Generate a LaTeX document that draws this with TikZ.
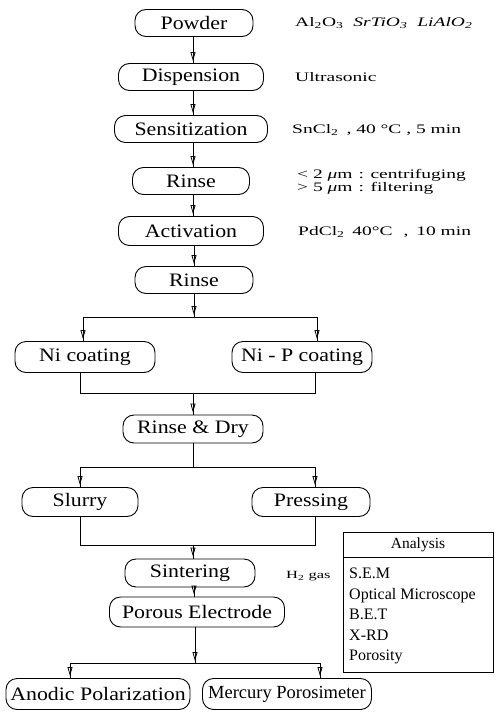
\documentclass[tikz,border=0pt]{standalone}
\usepackage{fontspec}
\setmainfont{Liberation Serif}
\newfontfamily\sidefont{Liberation Serif}[FakeStretch=1.5]
\newfontfamily\boxfont{Liberation Serif}[FakeStretch=1.15]
\usetikzlibrary{arrows.meta}
\begin{document}
\begin{tikzpicture}[x=1pt,y=-1pt,
  stepbox/.style={draw, line width=0.9pt, rounded corners=11pt, minimum height=27pt, inner sep=0pt, font=\boxfont\fontsize{19}{22}\selectfont},
  side/.style={anchor=west, inner sep=0pt, font=\sidefont\fontsize{13}{15}\selectfont},
  link/.style={line width=0.8pt},
  flow/.style={line width=0.8pt, preaction={draw,-,shorten >=0pt}, -{Triangle[open,length=9pt,width=5pt]}, shorten >=2pt},
  atext/.style={inner sep=0pt, font=\fontsize{16}{20.5}\selectfont}
]
\useasboundingbox (0,0) rectangle (498,715);

% main column
\node[stepbox, minimum width=118pt] (powder) at (194,23) {Powder};
\node[stepbox, minimum width=145pt] (disp) at (191,77) {Dispension};
\node[stepbox, minimum width=153pt] (sens) at (191,129) {Sensitization};
\node[stepbox, minimum width=117pt] (rinseA) at (191,181) {Rinse};
\node[stepbox, minimum width=145pt, minimum height=29pt] (activ) at (191,231) {Activation};
\node[stepbox, minimum width=118pt] (rinseB) at (194,280) {Rinse};
\node[stepbox, minimum width=140pt, minimum height=31pt] (nic) at (85,357) {Ni coating};
\node[stepbox, minimum width=140pt, minimum height=31pt] (nip) at (302,357) {Ni - P coating};
\node[stepbox, minimum width=140pt, minimum height=28pt] (rdry) at (193,429) {Rinse \& Dry};
\node[stepbox, minimum width=116pt, minimum height=29pt] (slurry) at (80,502) {Slurry};
\node[stepbox, minimum width=118pt, minimum height=29pt] (press) at (311,502) {Pressing};
\node[stepbox, minimum width=130pt, minimum height=28pt] (sint) at (190,573) {Sintering};
\node[stepbox, minimum width=175pt, minimum height=30pt] (porous) at (197,612) {Porous Electrode};
\node[stepbox, minimum width=184pt, minimum height=31pt] (anodic) at (98,694) {Anodic Polarization};
\node[stepbox, minimum width=169pt, minimum height=31pt, font=\fontsize{18.5}{22}\selectfont] (mercury) at (287,694) {Mercury Porosimeter};

% junction coordinates
\coordinate (b1) at (194,317); \coordinate (b1l) at (83,317); \coordinate (b1r) at (317,317);
\coordinate (m1) at (193,393); \coordinate (m1l) at (80,393); \coordinate (m1r) at (315,393);
\coordinate (b2) at (193,467); \coordinate (b2l) at (80,467); \coordinate (b2r) at (315,467);
\coordinate (m2) at (193,545); \coordinate (m2l) at (80,545); \coordinate (m2r) at (315,545);
\coordinate (b3) at (195,663); \coordinate (b3l) at (70,663); \coordinate (b3r) at (320,663);

% straight arrows
\draw[flow] (powder.south -| 193,0) -- (disp.north -| 193,0);
\draw[flow] (disp.south -| 193,0) -- (sens.north -| 193,0);
\draw[flow] (sens.south -| 193,0) -- (rinseA.north -| 193,0);
\draw[flow] (rinseA.south -| 193,0) -- (activ.north -| 193,0);
\draw[flow] (activ.south -| 194,0) -- (rinseB.north -| 194,0);
\draw[flow] (rinseB.south) -- (b1);
\draw[link] (b1l) -- (b1r);
\draw[flow] (b1l) -- (b1l |- nic.north);
\draw[flow] (b1r) -- (b1r |- nip.north);
\draw[link] (nic.south -| m1l) -- (m1l) -- (m1r) -- (nip.south -| m1r);
\draw[flow] (m1) -- (m1 |- rdry.north);
\draw[link] (rdry.south -| b2) -- (b2);
\draw[link] (b2l) -- (b2r);
\draw[flow] (b2l) -- (b2l |- slurry.north);
\draw[flow] (b2r) -- (b2r |- press.north);
\draw[link] (slurry.south -| m2l) -- (m2l) -- (m2r) -- (press.south -| m2r);
\draw[flow] (m2) -- (m2 |- sint.north);
\draw[flow] (sint.south -| 194,0) -- (porous.north -| 194,0);
\draw[flow] (porous.south -| b3) -- (b3);
\draw[link] (b3l) -- (b3r);
\draw[flow] (b3l) -- (b3l |- anodic.north);
\draw[flow] (b3r) -- (b3r |- mercury.north);

% side notes
\node[side] (n1) at (295,23) {Al\textsubscript{2}O\textsubscript{3}\hspace{10pt}\textit{SrTiO\textsubscript{3}}\hspace{10pt}\textit{LiAlO\textsubscript{2}}};
\node[side] (n2) at (295,77) {Ultrasonic};
\node[side] (n3) at (292,130) {SnCl\textsubscript{2}\hspace{8pt}, 40 °C , 5 min};
\node[side] (n4) at (297,175) {< 2 \textit{μ}m\hspace{6pt}: centrifuging};
\node[side] (n5) at (297,188) {> 5 \textit{μ}m\hspace{6pt}: filtering};
\node[side] (n6) at (298,232) {PdCl\textsubscript{2}\hspace{3pt} 40°C\hspace{6pt} ,\hspace{3pt} 10 min};
\node[side, font=\sidefont\fontsize{11}{13}\selectfont] (n7) at (286,576) {H\textsubscript{2} gas};

% analysis box
\node[draw, line width=0.8pt, minimum width=150pt, minimum height=140pt, inner sep=0pt] (abox) at (418,602) {};
\draw[line width=0.8pt] (abox.west |- 0,557) -- (abox.east |- 0,557);
\node[atext, font=\fontsize{15.5}{18}\selectfont] (ahead) at (418,545) {Analysis};
\node[atext, anchor=north west, align=left] (aitems) at (349,568) {S.E.M\\Optical Microscope\\B.E.T\\X-RD\\Porosity};
\end{tikzpicture}
\end{document}
